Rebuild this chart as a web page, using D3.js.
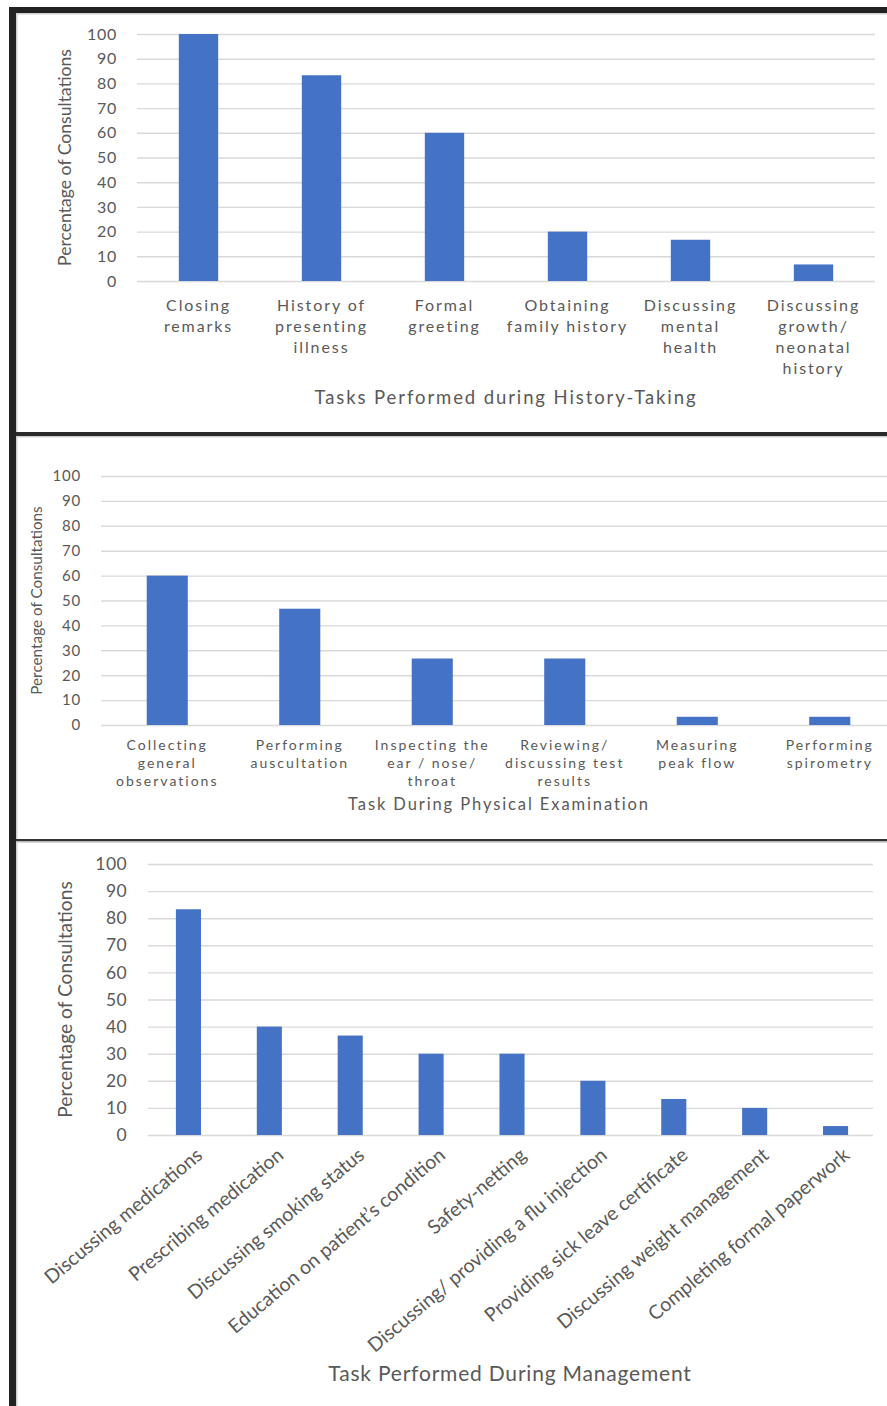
<!DOCTYPE html>
<html>
<head>
<meta charset="utf-8">
<script src="https://cdn.jsdelivr.net/npm/d3@7"></script>
<style>
  html, body { margin: 0; padding: 0; background: #ffffff; }
  svg { display: block; }
  text { font-family: Lato, "Open Sans", sans-serif; fill: #595959; }
</style>
</head>
<body>
<svg id="chart" width="887" height="1406"></svg>
<script>
// Percentage of consultations in which each task was observed
const yTicks = [0, 10, 20, 30, 40, 50, 60, 70, 80, 90, 100];

const historyTasks = [
  "Closing\nremarks",
  "History of\npresenting\nillness",
  "Formal\ngreeting",
  "Obtaining\nfamily history",
  "Discussing\nmental\nhealth",
  "Discussing\ngrowth/\nneonatal\nhistory"
];
const historyValues = [100, 83.3, 60, 20, 16.7, 6.7];

const examTasks = [
  "Collecting\ngeneral\nobservations",
  "Performing\nauscultation",
  "Inspecting the\near / nose/\nthroat",
  "Reviewing/\ndiscussing test\nresults",
  "Measuring\npeak flow",
  "Performing\nspirometry"
];
const examValues = [60, 46.7, 26.7, 26.7, 3.3, 3.3];

const mgmtTasks = [
  "Discussing medications",
  "Prescribing medication",
  "Discussing smoking status",
  "Education on patient’s condition",
  "Safety-netting",
  "Discussing/ providing a flu injection",
  "Providing sick leave certificate",
  "Discussing weight management",
  "Completing formal paperwork"
];
const mgmtValues = [83.3, 40, 36.7, 30, 30, 20, 13.3, 10, 3.3];

const yTitle = "Percentage of Consultations";
const historyTitle = "Tasks Performed during History-Taking";
const examTitle = "Task During Physical Examination";
const mgmtTitle = "Task Performed During Management";

const BAR = "#4472C4";
const GRID = "#d9d9d9";

const svg = d3.select("#chart");

// Panel frames
const frame = svg.append("g");
frame.append("rect").attr("x", 0).attr("y", 0).attr("width", 887).attr("height", 1406).attr("fill", "#fff");
frame.append("rect").attr("x", 9).attr("y", 7).attr("width", 878).attr("height", 6).attr("fill", "#222");
frame.append("rect").attr("x", 9).attr("y", 7).attr("width", 7).attr("height", 1399).attr("fill", "#222");
frame.append("rect").attr("x", 16).attr("y", 13).attr("width", 871).attr("height", 1.5).attr("fill", "#d0d0d0");
frame.append("rect").attr("x", 16).attr("y", 13).attr("width", 1.5).attr("height", 1393).attr("fill", "#d0d0d0");
frame.append("rect").attr("x", 16).attr("y", 432).attr("width", 871).attr("height", 4).attr("fill", "#2a2a2a");
frame.append("rect").attr("x", 16).attr("y", 436).attr("width", 871).attr("height", 1.5).attr("fill", "#cfcfcf");
frame.append("rect").attr("x", 16).attr("y", 839).attr("width", 871).attr("height", 2.5).attr("fill", "#333");
frame.append("rect").attr("x", 16).attr("y", 841.5).attr("width", 871).attr("height", 1.5).attr("fill", "#d6d6d6");

function drawPanel(opts, tasks, values) {
  const g = svg.append("g");
  const x = d3.scaleBand().domain(tasks).range(opts.xRange)
    .paddingInner(opts.pad).paddingOuter(opts.pad / 2);
  const y = d3.scaleLinear().domain([0, 100]).range(opts.yRange);

  // value axis with gridlines
  const yAxis = g.append("g")
    .attr("transform", `translate(${opts.xRange[0]},0)`)
    .call(d3.axisLeft(y).tickValues(yTicks)
      .tickSize(-(opts.gridEnd - opts.xRange[0]))
      .tickPadding(opts.tickPad));
  yAxis.select(".domain").remove();
  yAxis.selectAll(".tick line").attr("stroke", GRID).attr("stroke-width", 1.4);
  yAxis.selectAll(".tick text")
    .style("font-size", opts.tickFont + "px")
    .style("letter-spacing", opts.tickSpacing + "px")
    .attr("fill", "#595959");

  // bars
  g.append("g").selectAll("rect").data(values).join("rect")
    .attr("x", (d, i) => x(tasks[i]))
    .attr("width", x.bandwidth())
    .attr("y", d => y(d))
    .attr("height", d => y(0) - y(d))
    .attr("fill", BAR);

  // category labels
  const labels = g.append("g").selectAll("text").data(tasks).join("text")
    .style("font-size", opts.catFont + "px")
    .style("letter-spacing", opts.catSpacing + "px");
  if (opts.rotate) {
    labels
      .attr("text-anchor", "end")
      .attr("transform", d => `translate(${x(d) + x.bandwidth() / 2 + opts.catDx},${opts.catY}) rotate(${opts.rotate})`)
      .attr("dy", "0.75em")
      .text(d => d);
  } else {
    labels
      .attr("text-anchor", "middle")
      .attr("transform", d => `translate(${x(d) + x.bandwidth() / 2},${opts.catY})`)
      .each(function (d) {
        d3.select(this).selectAll("tspan").data(d.split("\n")).join("tspan")
          .attr("x", 0)
          .attr("y", (s, j) => j * opts.catLine)
          .text(s => s);
      });
  }

  // axis titles
  g.append("text")
    .attr("text-anchor", "middle")
    .attr("transform", `translate(${opts.yTitleX},${(opts.yRange[0] + opts.yRange[1]) / 2}) rotate(-90)`)
    .attr("dy", "0.35em")
    .style("font-size", opts.yTitleFont + "px")
    .text(yTitle);
  g.append("text")
    .attr("text-anchor", "middle")
    .attr("x", opts.titleX)
    .attr("y", opts.titleY)
    .style("font-size", opts.titleFont + "px")
    .style("letter-spacing", opts.titleSpacing + "px")
    .text(opts.title);
}

drawPanel({
  xRange: [137, 875], gridEnd: 875, yRange: [281, 34], pad: 0.68,
  tickPad: 20, tickFont: 16, tickSpacing: 0.7,
  catFont: 16, catSpacing: 1.9, catY: 311, catLine: 21,
  yTitleX: 65, yTitleFont: 17.6,
  title: historyTitle, titleX: 506, titleY: 404, titleFont: 18.5, titleSpacing: 1.9
}, historyTasks, historyValues);

drawPanel({
  xRange: [101, 896], gridEnd: 896, yRange: [725, 476], pad: 0.69,
  tickPad: 20, tickFont: 15, tickSpacing: 0.8,
  catFont: 14, catSpacing: 2, catY: 750, catLine: 18,
  yTitleX: 37, yTitleFont: 15.3,
  title: examTitle, titleX: 499, titleY: 810, titleFont: 16.5, titleSpacing: 1.9
}, examTasks, examValues);

drawPanel({
  xRange: [148, 876], gridEnd: 873, yRange: [1135, 864], pad: 0.69,
  tickPad: 21, tickFont: 17.5, tickSpacing: 0.4,
  catFont: 19.5, catSpacing: 0, catY: 1146, catDx: 6, rotate: -40,
  yTitleX: 65, yTitleFont: 19.2,
  title: mgmtTitle, titleX: 510, titleY: 1381, titleFont: 21, titleSpacing: 0.8
}, mgmtTasks, mgmtValues);
</script>
</body>
</html>
